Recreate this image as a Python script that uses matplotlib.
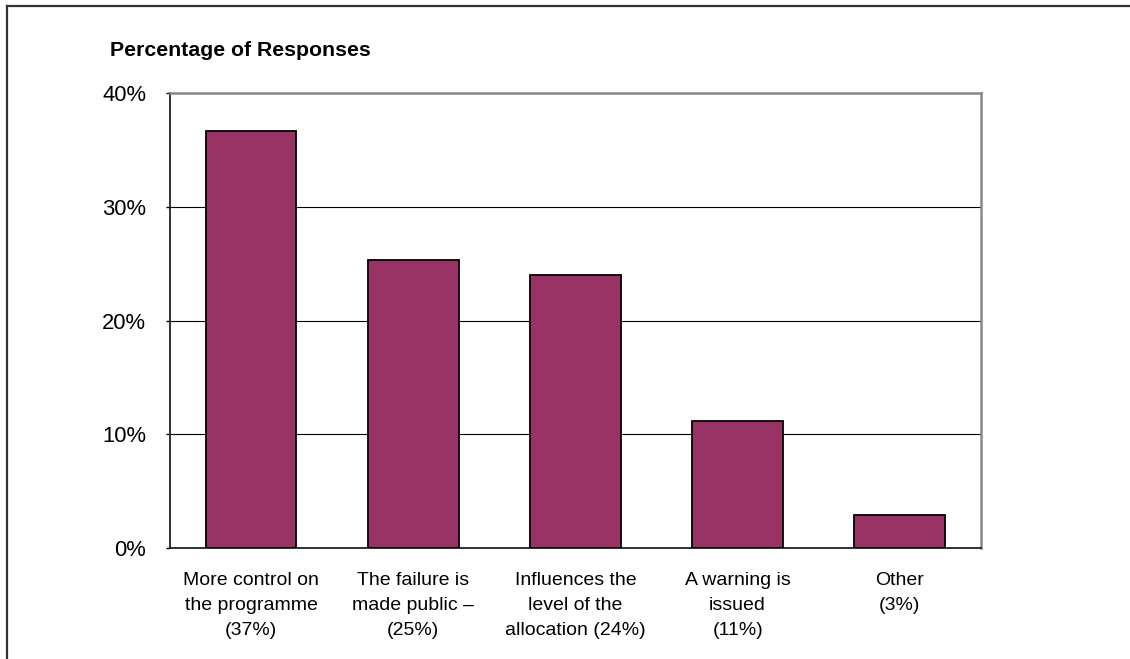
import numpy as np
import matplotlib.pyplot as plt
from matplotlib.lines import Line2D

# survey answers and their share of responses (%)
answers = ['More control on\nthe programme',
           'The failure is\nmade public \u2013',
           'Influences the\nlevel of the\nallocation',
           'A warning is\nissued',
           'Other']
shares = [36.7, 25.3, 24.0, 11.2, 2.9]
y_ticks = [0, 10, 20, 30, 40]

# percentage in brackets goes on its own line, except where it fits on the last one
labels = []
for a, v in zip(answers, shares):
    if a.startswith('Influences'):
        labels.append(f'{a} ({v:.0f}%)')
    else:
        labels.append(f'{a}\n({v:.0f}%)')

plt.rcParams['font.family'] = ['Liberation Sans', 'DejaVu Sans']

fig = plt.figure(figsize=(11.3, 6.59), dpi=100)
ax = fig.add_axes([0.1504, 0.1684, 0.7177, 0.6905])

x = np.arange(len(shares))
ax.bar(x, shares, width=0.56, color='#993366', edgecolor='black',
       linewidth=1.3, zorder=3)

ax.set_xlim(-0.5, len(shares) - 0.5)
ax.set_ylim(0, 40)
ax.set_yticks(y_ticks)
ax.set_yticklabels([f'{t}%' for t in y_ticks], fontsize=15.8)
ax.yaxis.grid(True, color='black', linewidth=0.8, zorder=1)
ax.tick_params(axis='y', length=3, width=1, pad=14, colors='black')

ax.set_xticks(x)
ax.set_xticklabels(labels, fontsize=14, linespacing=1.62,
                   family=['Liberation Sans Narrow', 'Liberation Sans', 'DejaVu Sans'])
ax.tick_params(axis='x', length=0, pad=17)

for side in ['left', 'bottom']:
    ax.spines[side].set_color('#222222')
    ax.spines[side].set_linewidth(1.3)
for side in ['top', 'right']:
    ax.spines[side].set_color('#888888')
    ax.spines[side].set_linewidth(1.8)

fig.text(110 / 1130, 1 - 50 / 659, 'Percentage of Responses',
         fontsize=15.3, fontweight='bold', va='center', ha='left')

# page frame along the top and left edges
fig.add_artist(Line2D([7 / 1130, 1], [1 - 6 / 659, 1 - 6 / 659],
                      transform=fig.transFigure, color='#333333', linewidth=1.6))
fig.add_artist(Line2D([7 / 1130, 7 / 1130], [0, 1 - 6 / 659],
                      transform=fig.transFigure, color='#333333', linewidth=1.6))

fig.savefig('out.png', dpi=100)
